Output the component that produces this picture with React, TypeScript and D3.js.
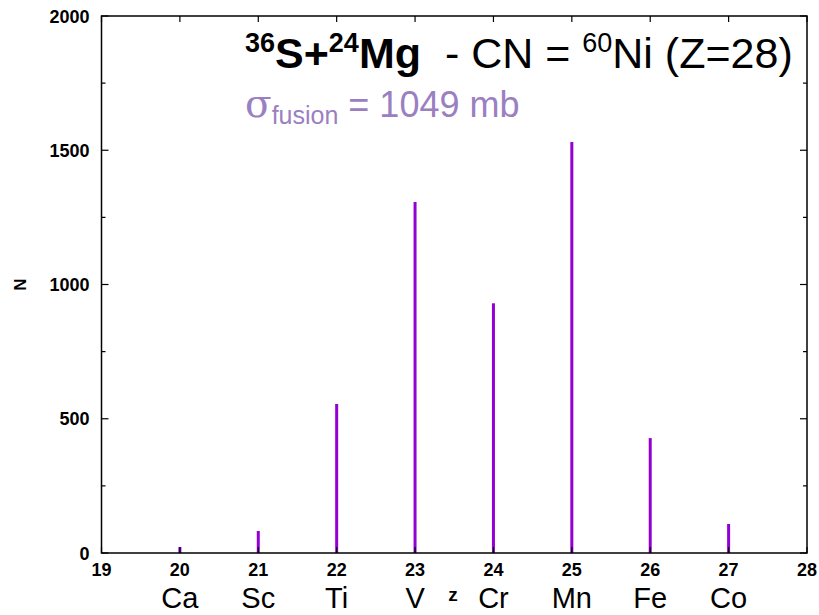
import React, { useEffect, useRef } from "react";
import * as d3 from "d3";

const zValues = [20, 21, 22, 23, 24, 25, 26, 27];
const elements = ["Ca", "Sc", "Ti", "V", "Cr", "Mn", "Fe", "Co"];
const counts = [22, 82, 555, 1307, 930, 1531, 428, 108];
const yMajorTicks = [0, 500, 1000, 1500, 2000];
const yMinorTicks = [250, 750, 1250, 1750];
const xTicks = [19, 20, 21, 22, 23, 24, 25, 26, 27, 28];

const W = 819;
const H = 615;
const margin = { left: 101.5, right: 12, top: 16, bottom: 62 };
const barColor = "#9400d3";
const sigmaColor = "#9a80c2";
const font = "'Liberation Sans', Arial, Helvetica, sans-serif";

export default function App() {
  const ref = useRef<SVGSVGElement>(null);

  useEffect(() => {
    document.body.style.margin = "0";
    const svg = d3.select(ref.current);
    svg.selectAll("*").remove();

    const x = d3.scaleLinear().domain([19, 28]).range([margin.left, W - margin.right]);
    const y = d3.scaleLinear().domain([0, 2000]).range([H - margin.bottom, margin.top]);
    const [x0, x1] = x.range();
    const [y0, y1] = y.range();

    // bars (impulses)
    svg
      .selectAll("line.bar")
      .data(zValues)
      .enter()
      .append("line")
      .attr("class", "bar")
      .attr("x1", (d) => x(d))
      .attr("x2", (d) => x(d))
      .attr("y1", y(0))
      .attr("y2", (d, i) => y(counts[i]))
      .attr("stroke", barColor)
      .attr("stroke-width", 3);

    const g = svg.append("g").attr("stroke", "#000").attr("stroke-width", 1.2);

    // x ticks bottom + top (inward)
    xTicks.forEach((t) => {
      g.append("line").attr("x1", x(t)).attr("x2", x(t)).attr("y1", y0).attr("y2", y0 - 6);
      g.append("line").attr("x1", x(t)).attr("x2", x(t)).attr("y1", y1).attr("y2", y1 + 6);
    });
    // y ticks left + right
    yMajorTicks.forEach((t) => {
      g.append("line").attr("x1", x0).attr("x2", x0 + 7).attr("y1", y(t)).attr("y2", y(t));
      g.append("line").attr("x1", x1).attr("x2", x1 - 7).attr("y1", y(t)).attr("y2", y(t));
    });
    yMinorTicks.forEach((t) => {
      g.append("line").attr("x1", x0).attr("x2", x0 + 4).attr("y1", y(t)).attr("y2", y(t));
      g.append("line").attr("x1", x1).attr("x2", x1 - 4).attr("y1", y(t)).attr("y2", y(t));
    });

    // frame
    svg
      .append("rect")
      .attr("x", x0)
      .attr("y", y1)
      .attr("width", x1 - x0)
      .attr("height", y0 - y1)
      .attr("fill", "none")
      .attr("stroke", "#000")
      .attr("stroke-width", 1.5);

    // tick labels
    svg
      .selectAll("text.ytick")
      .data(yMajorTicks)
      .enter()
      .append("text")
      .attr("x", x0 - 12)
      .attr("y", (d) => y(d) + 6.5)
      .attr("text-anchor", "end")
      .style("font-family", font)
      .style("font-weight", "bold")
      .style("font-size", "18px")
      .text((d) => d);

    svg
      .selectAll("text.xtick")
      .data(xTicks)
      .enter()
      .append("text")
      .attr("x", (d) => x(d))
      .attr("y", y0 + 23)
      .attr("text-anchor", "middle")
      .style("font-family", font)
      .style("font-weight", "bold")
      .style("font-size", "18px")
      .text((d) => d);

    // element names
    svg
      .selectAll("text.el")
      .data(zValues)
      .enter()
      .append("text")
      .attr("x", (d) => x(d))
      .attr("y", y0 + 54.5)
      .attr("text-anchor", "middle")
      .style("font-family", font)
      .style("font-size", "29px")
      .text((d, i) => elements[i]);

    // axis titles
    svg
      .append("text")
      .attr("x", 453)
      .attr("y", y0 + 48)
      .attr("text-anchor", "middle")
      .style("font-family", font)
      .style("font-weight", "bold")
      .style("font-size", "19px")
      .text("z");
    svg
      .append("text")
      .attr("transform", `translate(26,${(y0 + y1) / 2}) rotate(-90)`)
      .attr("text-anchor", "middle")
      .style("font-family", font)
      .style("font-weight", "bold")
      .style("font-size", "17px")
      .text("N");

    // title
    const title = svg
      .append("text")
      .attr("x", 245)
      .attr("y", 68)
      .style("font-family", font)
      .style("font-size", "43px")
      .attr("fill", "#000");
    title.append("tspan").attr("font-weight", "bold").attr("font-size", "27px").attr("dy", -16).text("36");
    title.append("tspan").attr("font-weight", "bold").attr("dy", 16).text("S+");
    title.append("tspan").attr("font-weight", "bold").attr("font-size", "27px").attr("dy", -16).text("24");
    title.append("tspan").attr("font-weight", "bold").attr("dy", 16).text("Mg");
    title.append("tspan").attr("xml:space", "preserve").text("  - CN = ");
    title.append("tspan").attr("font-size", "27px").attr("dy", -16).text("60");
    title.append("tspan").attr("dy", 16).text("Ni (Z=28)");

    const sigma = svg
      .append("text")
      .attr("x", 245)
      .attr("y", 117)
      .style("font-family", font)
      .style("font-size", "36px")
      .attr("fill", sigmaColor);
    sigma
      .append("tspan")
      .style("font-family", "'DejaVu Serif', 'Liberation Serif', serif")
      .attr("font-size", "39px")
      .text("σ");
    sigma.append("tspan").attr("font-size", "25px").attr("dy", 7).text("fusion");
    sigma.append("tspan").attr("dy", -7).text(" = 1049 mb");
  }, []);

  return <svg ref={ref} width={W} height={H} style={{ display: "block" }} />;
}
